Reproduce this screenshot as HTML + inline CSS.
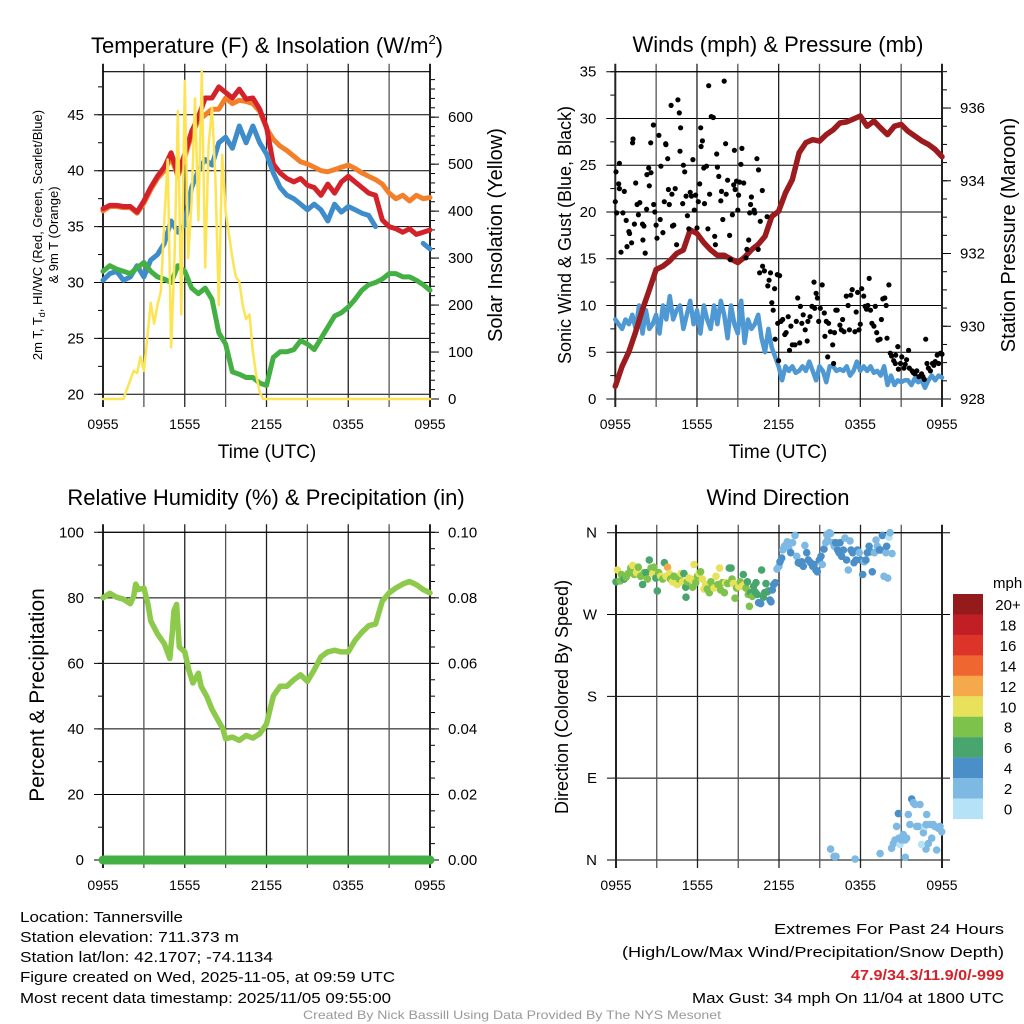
<!DOCTYPE html>
<html><head><meta charset="utf-8">
<style>
html,body{margin:0;padding:0;background:#fff;}
svg{display:block;font-family:"Liberation Sans",sans-serif;}
</style></head>
<body>
<svg id="fig" width="1024" height="1024" viewBox="0 0 1024 1024" xmlns="http://www.w3.org/2000/svg">
<text x="267" y="53" font-size="22" text-anchor="middle">Temperature (F) &amp; Insolation (W/m<tspan font-size="13" dy="-9">2</tspan><tspan dy="9">)</tspan></text>
<text x="778" y="52" font-size="22" text-anchor="middle">Winds (mph) &amp; Pressure (mb)</text>
<text x="266" y="505" font-size="22" text-anchor="middle">Relative Humidity (%) &amp; Precipitation (in)</text>
<text x="778" y="505" font-size="22" text-anchor="middle">Wind Direction</text>
<text x="267" y="458" font-size="19" text-anchor="middle">Time (UTC)</text>
<text x="778" y="458" font-size="19" text-anchor="middle">Time (UTC)</text>
<text transform="translate(42,235) rotate(-90)" font-size="13" text-anchor="middle">2m T, T<tspan font-size="9" dy="3">d</tspan><tspan dy="-3">, HI/WC (Red, Green, Scarlet/Blue)</tspan></text>
<text transform="translate(58,235) rotate(-90)" font-size="13" text-anchor="middle">&amp; 9m T (Orange)</text>
<text transform="translate(502,235) rotate(-90)" font-size="20" text-anchor="middle">Solar Insolation (Yellow)</text>
<text transform="translate(571,235) rotate(-90)" font-size="18" text-anchor="middle">Sonic Wind &amp; Gust (Blue, Black)</text>
<text transform="translate(1015,235) rotate(-90)" font-size="20" text-anchor="middle">Station Pressure (Maroon)</text>
<text transform="translate(44,695) rotate(-90)" font-size="21" text-anchor="middle">Percent &amp; Precipitation</text>
<text transform="translate(568,697) rotate(-90)" font-size="18" text-anchor="middle">Direction (Colored By Speed)</text>
<text x="993" y="588" font-size="15">mph</text>
<g font-size="15">
<text x="20" y="922" textLength="163" lengthAdjust="spacingAndGlyphs">Location: Tannersville</text>
<text x="20" y="942" textLength="219" lengthAdjust="spacingAndGlyphs">Station elevation: 711.373 m</text>
<text x="20" y="962" textLength="253" lengthAdjust="spacingAndGlyphs">Station lat/lon: 42.1707; -74.1134</text>
<text x="20" y="982" textLength="375" lengthAdjust="spacingAndGlyphs">Figure created on Wed, 2025-11-05, at 09:59 UTC</text>
<text x="20" y="1003" textLength="371" lengthAdjust="spacingAndGlyphs">Most recent data timestamp: 2025/11/05 09:55:00</text>
</g>
<g font-size="15">
<text x="1004" y="934" text-anchor="end" textLength="230" lengthAdjust="spacingAndGlyphs">Extremes For Past 24 Hours</text>
<text x="1004" y="957" text-anchor="end" textLength="382" lengthAdjust="spacingAndGlyphs">(High/Low/Max Wind/Precipitation/Snow Depth)</text>
<text x="1004" y="980" text-anchor="end" fill="#d3222a" font-weight="bold" textLength="153" lengthAdjust="spacingAndGlyphs">47.9/34.3/11.9/0/-999</text>
<text x="1004" y="1003" text-anchor="end" textLength="312" lengthAdjust="spacingAndGlyphs">Max Gust: 34 mph On 11/04 at 1800 UTC</text>
</g>
<text x="512" y="1019" font-size="12" fill="#999" text-anchor="middle" textLength="418" lengthAdjust="spacingAndGlyphs">Created By Nick Bassill Using Data Provided By The NYS Mesonet</text>
</svg>
<script>
// ---------- DATA ----------
const hours = [0,0.5,1,1.5,2,2.5,3,3.5,4,4.5,5,5.5,6,6.5,7,7.5,8,8.5,9,9.5,10,10.5,11,11.5,12,12.5,13,13.5,14,14.5,15,15.5,16,16.5,17,17.5,18,18.5,19,19.5,20,20.5,21,21.5,22,22.5,23,23.5,24];
const tempRed = [36.6,36.9,36.9,36.8,36.8,36.3,37.3,38.5,39.5,40.3,41.6,39.7,41.5,43.5,44.8,46.5,46.5,47.5,47.0,46.5,47.3,46.4,46.5,45.5,43.9,40.6,39.8,39.3,39.0,39.3,38.7,38.5,37.8,38.8,38.0,39.0,39.5,39.0,38.5,38.0,37.8,35.6,35.0,34.8,34.5,34.8,34.3,34.5,34.7];
const tempOrange = [36.4,36.8,36.8,36.7,36.7,36.2,37.1,38.3,39.3,40.0,41.2,39.5,41.2,43.2,44.5,45.0,45.5,45.5,46.5,46.0,46.3,46.2,46.0,45.3,43.8,42.8,42.2,41.8,41.3,40.8,40.6,40.3,40.0,39.9,40.1,40.3,40.5,40.2,39.8,39.5,39.2,38.8,38.0,37.5,37.8,37.3,37.8,37.5,37.6];
const tempBlue = [30.2,30.8,31.0,30.2,30.5,31.5,30.5,32.0,32.5,33.5,35.5,34.5,35.2,38.5,40.0,41.0,40.5,42.5,43.0,42.0,44.0,42.5,44.0,42.5,41.5,39.8,38.5,37.8,37.5,37.0,36.5,37.0,36.5,35.5,37.0,36.3,36.8,36.5,36.2,36.0,35.0,null,null,null,null,null,null,33.5,33.0];
const tempGreen = [31.0,31.5,31.2,31.0,30.8,31.3,31.8,31.0,30.5,30.3,30.0,31.5,31.0,29.5,29.0,29.5,28.5,25.5,24.5,22.0,21.8,21.5,21.5,21.0,20.8,23.3,23.8,23.8,24.0,24.8,24.5,24.0,25.0,26.0,27.0,27.3,27.8,28.5,29.3,29.8,30.0,30.3,30.8,30.8,30.5,30.5,30.2,29.8,29.3];
const solarHours = [0,1.5,1.75,2,2.25,2.5,2.75,3,3.25,3.5,3.75,4,4.25,4.5,4.75,5,5.25,5.5,5.75,6,6.25,6.5,6.75,7,7.25,7.5,7.75,8,8.25,8.5,8.75,9,9.25,9.5,9.75,10,10.25,10.5,10.75,11,11.25,11.5,11.75,24];
const solarValues = [0,0,20,40,60,55,90,60,130,205,160,200,230,380,510,110,300,613,180,677,300,420,640,380,698,280,540,620,470,200,520,400,350,300,260,250,200,170,180,100,50,15,0,0];
const pressure = [928.35,928.9,929.3,929.85,930.46,931.0,931.56,931.65,931.8,932.0,932.1,932.65,932.55,932.3,932.1,931.95,931.95,931.85,931.75,931.9,932.1,932.25,932.47,933.02,933.16,933.67,934.03,934.77,935.05,935.13,935.09,935.27,935.4,935.59,935.62,935.7,935.78,935.5,935.64,935.45,935.27,935.5,935.55,935.36,935.23,935.1,935.0,934.86,934.66];
const windHours = [0,0.25,0.5,0.75,1,1.25,1.5,1.75,2,2.25,2.5,2.75,3,3.25,3.5,3.75,4,4.25,4.5,4.75,5,5.25,5.5,5.75,6,6.25,6.5,6.75,7,7.25,7.5,7.75,8,8.25,8.5,8.75,9,9.25,9.5,9.75,10,10.25,10.5,10.75,11,11.25,11.5,11.75,12,12.25,12.5,12.75,13,13.25,13.5,13.75,14,14.25,14.5,14.75,15,15.25,15.5,15.75,16,16.25,16.5,16.75,17,17.25,17.5,17.75,18,18.25,18.5,18.75,19,19.25,19.5,19.75,20,20.25,20.5,20.75,21,21.25,21.5,21.75,22,22.25,22.5,22.75,23,23.25,23.5,23.75,24];
const windSpeed = [8.5,8.0,7.5,8.5,8.0,9.0,7.5,10.0,7.0,9.5,7.5,8.0,9.0,7.0,10.0,8.5,11.0,8.5,9.5,10.0,7.5,9.0,10.5,8.0,9.5,7.0,10.0,8.5,7.5,10.0,8.0,10.5,9.0,6.5,10.0,8.0,7.0,10.5,6.0,8.5,7.5,8.0,9.0,6.5,5.0,7.5,5.5,4.5,3.5,2.0,3.5,3.0,3.5,2.8,3.0,3.5,3.0,4.0,3.0,2.0,3.5,3.0,1.8,3.5,3.5,3.0,3.2,3.0,3.5,2.5,3.0,4.0,3.0,3.5,3.0,3.5,2.8,3.0,2.5,3.5,1.5,2.5,1.5,2.0,1.8,2.0,2.0,1.5,2.2,1.8,2.0,1.2,2.0,2.5,2.0,2.5,2.3];
const gustHours = [0,0.05,0.3,0.3,0.25,0.1,0.66,0.56,0.42,0.8,1.0,1.05,1.2,0.86,1.27,1.3,1.5,1.6,1.7,1.8,1.4,2.0,2.1,2.03,2.2,2.3,2.32,2.45,2.5,2.6,2.62,2.8,2.82,2.9,3.0,3.06,3.2,3.3,3.35,3.5,3.6,3.7,3.72,3.85,3.9,3.97,4.1,4.16,4.2,4.3,4.4,4.5,4.6,4.7,4.75,4.8,4.95,5.0,5.1,5.2,5.3,5.4,5.5,5.6,5.7,5.8,5.9,6.0,6.1,6.2,6.27,6.3,6.4,6.5,6.55,6.7,6.8,6.86,6.93,7.05,7.2,7.3,7.35,7.45,7.5,7.6,7.75,7.8,7.9,8.0,8.1,8.15,8.25,8.4,8.45,8.6,8.7,8.75,8.8,8.9,9.0,9.06,9.13,9.23,9.3,9.43,9.6,9.67,9.8,9.87,9.94,10.0,10.2,10.24,10.4,10.5,10.52,10.65,10.8,10.6,10.82,10.95,11.15,11.2,11.3,11.4,11.5,11.6,11.7,11.75,11.9,12.0,11.93,12.07,12.17,12.3,12.45,12.55,12.7,12.8,12.9,13.0,13.2,13.3,13.4,13.55,13.6,13.7,13.8,13.95,14.1,14.15,14.3,14.45,14.6,14.65,14.75,14.85,14.94,15.06,15.2,15.35,15.4,15.5,15.6,15.67,15.8,15.97,16.04,16.1,16.2,16.3,16.5,16.6,16.7,16.8,16.97,17.1,17.2,17.3,17.4,17.6,17.7,17.8,17.9,18.0,18.1,18.25,18.35,18.45,18.55,18.65,18.75,18.85,19.0,19.1,19.2,19.3,19.45,19.55,19.65,19.8,19.9,19.96,20.1,20.2,20.3,20.45,20.57,20.6,20.75,20.8,20.95,21.05,21.2,21.3,21.4,21.55,21.6,21.8,21.9,22.0,22.15,22.3,22.5,22.6,22.7,22.8,22.9,23.0,23.15,23.3,23.4,23.5,23.65,23.75,23.9,24.0];
const gustValues = [21.1,24.3,22.5,25.2,23.0,19.9,22.2,19.9,15.7,19.1,17.9,17.7,16.7,16.3,27.4,27.8,23.1,20.8,19.7,21.0,18.7,18.7,18.5,17.0,15.6,20.3,24.0,24.7,22.8,27.4,24.2,29.3,20.8,20.0,18.6,17.2,28.2,19.2,24.9,17.8,21.1,27.3,27.2,25.7,22.4,20.8,31.4,21.9,18.5,18.6,22.5,16.5,32.0,30.6,26.5,29.0,20.9,25.0,24.3,21.7,19.6,18.2,22.1,21.7,25.6,20.2,21.8,18.3,21.1,23.0,29.0,27.0,27.6,24.7,20.9,24.9,18.2,33.5,21.9,30.2,30.1,17.4,16.5,26.2,24.8,23.8,21.2,22.2,19.2,34.0,27.3,21.9,23.4,17.5,14.9,19.7,22.9,26.6,22.4,23.3,20.2,21.8,23.2,25.1,26.8,23.1,15.1,16.0,17.0,19.9,20.8,21.6,20.2,19.9,25.7,16.0,24.5,19.0,22.3,13.5,14.2,13.7,19.5,12.1,12.7,13.5,10.3,9.5,11.8,6.4,13.3,4.1,8.1,13.2,8.3,8.5,6.9,7.1,8.8,5.2,7.8,5.8,5.8,8.3,10.8,6.0,9.9,8.1,9.0,7.4,6.2,8.3,8.8,9.9,12.5,9.7,11.3,10.8,8.3,9.7,12.2,9.2,6.7,8.3,4.5,8.1,7.2,5.8,3.8,7.1,9.5,9.5,7.9,7.4,8.5,7.2,11.0,10.0,7.4,11.1,11.7,7.2,9.3,11.4,7.4,8.0,11.8,11.0,9.9,9.6,10.0,12.9,9.5,8.1,7.8,9.9,7.1,6.3,6.4,8.5,10.7,10.8,10.0,6.5,12.2,4.9,4.6,4.1,3.8,4.7,5.6,3.2,3.8,4.5,3.3,3.7,4.2,5.2,3.3,3.0,2.8,2.7,3.0,2.4,2.7,2.4,2.1,6.4,3.8,3.3,3.0,3.8,3.6,4.0,4.7,3.8,4.9,4.8];
const rhValues = [80,81.4,80.2,79.6,78.2,80.5,84.2,82.5,83.0,78.0,73.0,69.0,66.0,61.5,70.0,76.0,78.0,65.0,63.5,58.0,54.0,57.0,53.0,50.0,46.0,43.0,40.0,37.0,37.5,36.5,38.0,37.2,38.5,41.5,50.0,53.0,53.0,55.0,56.5,54.5,58.0,62.0,63.5,64.0,63.5,63.5,67.0,69.5,71.5,72.0,79.0,81.5,83.0,84.2,85.0,84.0,82.5,81.5];
const rhHours = [0,0.5,1,1.5,2,2.25,2.4,2.6,3,3.3,3.5,4,4.5,4.9,5.1,5.2,5.4,5.6,6,6.3,6.6,7,7.2,7.6,8,8.4,8.8,9,9.5,10,10.5,11,11.5,12,12.5,13,13.5,14,14.5,15,15.5,16,16.5,17,17.5,18,18.5,19,19.5,20,20.5,21,21.5,22,22.5,23,23.5,24];
const precipHours = [0,24];
const precipValues = [0,0];
const dirHours = [0,0.1,0.3,0.4,0.6,0.74,0.9,1.08,1.23,1.35,1.52,1.64,1.82,1.96,2.06,2.21,2.31,2.45,2.58,2.7,2.8,2.94,3.04,3.14,3.29,3.44,3.56,3.68,3.8,3.93,4.02,4.15,4.27,4.42,4.52,4.66,4.79,4.91,5.0,5.13,5.15,5.25,5.37,5.5,5.64,5.74,5.87,5.99,6.11,6.23,6.36,6.48,6.6,6.72,6.87,6.99,7.12,7.21,7.36,7.51,7.63,7.71,7.83,7.98,8.07,8.22,8.34,8.47,8.54,8.64,8.76,8.88,9.03,9.15,9.28,9.37,9.45,9.57,9.67,9.74,9.82,9.91,10.04,10.13,10.23,10.31,10.4,10.5,10.65,10.72,10.85,10.94,11.04,11.14,11.21,11.34,11.41,11.51,11.61,11.73,11.85,12.0,12.07,12.2,12.27,12.39,12.52,12.61,12.71,12.86,13.0,13.18,13.3,13.42,13.55,13.67,13.79,13.91,14.04,14.16,14.33,14.48,14.58,14.72,14.82,14.97,15.09,15.19,15.31,15.44,15.51,15.58,15.71,15.8,15.95,16.07,16.17,16.32,16.42,16.49,16.61,16.74,16.86,16.98,17.1,17.23,17.3,17.42,17.52,17.67,17.77,17.91,18.01,18.16,18.28,18.4,18.5,18.63,18.75,18.87,19.02,19.14,19.24,19.39,19.48,19.61,19.73,19.88,19.93,20.0,20.1,20.17,20.32,21.3,22.82,
15.8,16.05,16.2,17.6,19.44,20.29,20.42,20.54,20.66,20.79,20.91,20.83,21.03,21.15,21.28,21.4,21.52,21.64,21.77,21.89,22.01,22.13,22.26,22.38,22.5,22.63,22.75,22.82,22.87,22.99,23.12,23.24,23.36,23.48,23.61,23.73,23.85,23.98,24.0,24.0];
const dirDegrees = [306,319,307,314,309,311,315,321,324,314,316,322,312,303,316,316,309,330,321,315,322,310,296,316,312,309,327,312,322,315,309,306,312,304,303,309,315,306,315,300,289,306,310,309,300,325,305,312,315,317,309,298,303,298,294,306,301,299,312,303,321,297,305,294,305,304,321,321,309,304,288,299,301,306,301,314,303,299,306,292,279,294,290,301,295,305,292,283,282,319,289,294,304,295,296,286,284,297,303,305,320,323,328,332,341,345,347,350,343,338,349,357,334,327,326,328,323,346,338,330,327,323,325,319,317,330,334,325,342,349,358,352,360,359,349,345,349,341,338,349,334,341,354,330,319,351,341,338,327,330,341,338,330,314,328,330,338,345,339,317,338,352,345,341,341,357,312,338,345,310,355,360,337,
3,12,12,4,4,1,7,13,18,22,37,51,17,24,22,28,22,24,50,39,67,63,61,37,37,61,17,30,37,39,50,18,39,24,39,37,11,35,37,31];
const dirSpeeds = [7,10,8,8,7,8,8,8,10,8,10,8,8,6,8,7,8,7,8,10,8,6,6,9,10,8,7,10,13,10,9,10,8,10,10,9,10,10,7,6,6,8,10,10,8,10,8,9,10,8,10,10,10,8,8,9,8,10,10,8,10,9,9,8,10,9,7,7,8,10,8,8,10,9,10,7,10,8,6,8,8,7,8,7,6,6,7,4,4,6,6,6,6,7,6,4,4,4,4,4,2,3,4,4,2,2,2,2,2,4,2,2,3,4,4,4,4,2,4,4,4,4,4,4,4,4,4,3,4,2,2,2,2,2,2,2,4,4,4,4,4,4,2,4,3,2,4,4,4,4,4,2,4,4,2,4,4,4,4,4,2,2,2,4,4,4,2,2,4,2,1,2,2,2,
2,2,2,2,2,2,2,2,2,2,4,1,2,2,2,2,2,2,2,4,2,2,2,2,2,1,2,1,2,2,2,2,2,2,2,2,2,2,2,2];
const speedLegendLabels = ['20+','18','16','14','12','10','8','6','4','2','0'];
const speedColors = ['#b5e2f6','#7db9e3','#4a8fc7','#49a56e','#7dc24b','#e7e15b','#f6a94a','#ef6631','#dc3429','#c11e26','#941a1c'];

// ---------- RENDER ----------
const svg = document.getElementById('fig');
const NS = 'http://www.w3.org/2000/svg';
function mk(tag, attrs, parent){const e=document.createElementNS(NS,tag);for(const k in attrs)e.setAttribute(k,attrs[k]);(parent||svg).appendChild(e);return e;}

function makeAxis(cfg){
  const xs = h => cfg.x0 + h*(cfg.x1-cfg.x0)/24;
  const g = mk('g',{});
  
  
  cfg.leftTicks.forEach(v=>{
    const y=cfg.yl(v);
    const gl=mk('line',{x1:cfg.x0-9,x2:cfg.x1+(cfg.gridExt||0),y1:y,y2:y,stroke:'#000','stroke-width':1},g);
    
    
    const t=mk('text',{x:cfg.x0-19,y:y+5,'font-size':15,'text-anchor':'end'},g);
    t.textContent = cfg.leftFmt ? cfg.leftFmt(v) : v;
    
    
  });
  (cfg.leftMinor||[]).forEach(v=>{const y=cfg.yl(v);const m=mk('line',{x1:cfg.x0-5,x2:cfg.x0,y1:y,y2:y,stroke:'#000','stroke-width':1},g);
    
    });
  if(cfg.rightTicks){
    cfg.rightTicks.forEach(v=>{const y=cfg.yr(v);
      const tk=mk('line',{x1:cfg.x1,x2:cfg.x1+9,y1:y,y2:y,stroke:'#000','stroke-width':1},g);
      
      
      const t=mk('text',{x:cfg.x1+18,y:y+5,'font-size':15},g);
      t.textContent = cfg.rightFmt(v);
      
      });
    cfg.rightMinor.forEach(v=>{const y=cfg.yr(v);const m=mk('line',{x1:cfg.x1,x2:cfg.x1+5,y1:y,y2:y,stroke:'#000','stroke-width':1},g);
      
      });
  }
  [0,3,6,9,12,15,18,21,24].forEach(h=>{
    const x=xs(h);
    const vl=mk('line',{x1:x,x2:x,y1:cfg.y0-8,y2:cfg.y1+8,stroke:(h%6===0?'#222':'#555'),'stroke-width':(h===0||h===24)?2:1.3},g);
    
    
  });
  ['0955','1555','2155','0355','0955'].forEach((lab,i)=>{
    const t=mk('text',{x:xs(i*6),y:cfg.y1+30,'font-size':14,'text-anchor':'middle'},g);
    t.textContent=lab;
    
    
  });
  const top=mk('line',{x1:cfg.x0,x2:cfg.x1,y1:cfg.y0,y2:cfg.y0,stroke:'#000','stroke-width':1.2},g);
  
  
  return xs;
}

function linePath(xs,ys,xf,yf,color,width,name){
  let d='',pen=false;
  const n=Math.min(xs.length,ys.length);
  for(let i=0;i<n;i++){
    if(ys[i]===null||ys[i]===undefined){pen=false;continue;}
    d+=(pen?'L':'M')+xf(xs[i]).toFixed(1)+' '+yf(ys[i]).toFixed(1)+' ';pen=true;
  }
  const p=mk('path',{d:d,fill:'none',stroke:color,'stroke-width':width,'stroke-linejoin':'round','stroke-linecap':'round'});
  
  
  return p;
}
function range(a,b,s){const r=[];for(let v=a;v<=b+1e-9;v+=s)r.push(+v.toFixed(4));return r;}

// Panel 1: temperature
const yT = v => 394.3-(v-20)*11.18;
const yS = v => 399-v*0.4697;
const x1f = makeAxis({name:'temperature',x0:103,x1:430,y0:71.7,y1:399,yl:yT,yr:yS,
  leftTicks:[20,25,30,35,40,45],leftMinor:range(20,47.5,2.5),
  rightTicks:[0,100,200,300,400,500,600],rightMinor:range(0,680,20),rightFmt:v=>v});
linePath(hours,tempOrange,x1f,yT,'#f47f2a',5,'temperature-9m-orange-line');
linePath(hours,tempRed,x1f,yT,'#d3222a',5,'temperature-2m-red-line');
linePath(hours,tempBlue,x1f,yT,'#3f8ccb',5,'wind-chill-blue-line');
linePath(hours,tempGreen,x1f,yT,'#44b044',5,'dewpoint-green-line');
linePath(solarHours,solarValues,x1f,yS,'#fde455',2.5,'solar-insolation-yellow-line');

// Panel 2: winds
const yW = v => 399-v*9.351;
const yP = p => 399-(p-928)*36.37;
const x2f = makeAxis({name:'wind',x0:615.3,x1:942,y0:71.7,y1:399,yl:yW,yr:yP,
  leftTicks:[0,5,10,15,20,25,30,35],leftMinor:range(0,35,2.5),
  rightTicks:[928,930,932,934,936],rightMinor:range(928,937,0.5),rightFmt:v=>v});
linePath(windHours,windSpeed,x2f,yW,'#4e98d3',4.5,'sustained-wind-blue-line');
linePath(hours,pressure,x2f,yP,'#9b1b1e',5.5,'station-pressure-maroon-line');
const nGust=Math.min(gustHours.length,gustValues.length);
for(let i=0;i<nGust;i++){
  const c=mk('circle',{cx:x2f(gustHours[i]).toFixed(1),cy:yW(gustValues[i]).toFixed(1),r:2.6,fill:'#000'});
  
  
}

// Panel 3: RH
const yR = v => 860-v*3.277;
const yPr = v => 860-v*3277;
const x3f = makeAxis({name:'humidity',x0:103,x1:430,y0:532.3,y1:860,yl:yR,yr:yPr,
  leftTicks:[0,20,40,60,80,100],leftMinor:range(0,100,10),
  rightTicks:[0,0.02,0.04,0.06,0.08,0.10],rightMinor:range(0,0.1,0.005),rightFmt:v=>v.toFixed(2)});
linePath(rhHours,rhValues,x3f,yR,'#8dc94b',5.5,'relative-humidity-line');
linePath(precipHours,precipValues,x3f,yPr,'#44b044',9,'precipitation-line');

// Panel 4: wind direction
const yD = d => 860-d*0.9092;
const x4f = makeAxis({name:'direction',x0:616,x1:942,y0:532.7,y1:860,yl:yD,gridExt:8,
  leftTicks:[0,90,180,270,360],leftMinor:[],leftFmt:v=>({0:'N',90:'E',180:'S',270:'W',360:'N'})[v]});
const nDir=Math.min(dirHours.length,dirDegrees.length,dirSpeeds.length);
for(let i=0;i<nDir;i++){
  const bin=Math.min(10,Math.floor(dirSpeeds[i]/2));
  const c=mk('circle',{cx:x4f(dirHours[i]).toFixed(1),cy:yD(dirDegrees[i]).toFixed(1),r:3.8,fill:speedColors[bin]});
  
  
}
speedLegendLabels.forEach((lab,i)=>{
  const y=594+i*20.45;
  const r=mk('rect',{x:953,y:y,width:30,height:20.6,fill:speedColors[10-i]});
  
  
  const t=mk('text',{x:1008,y:y+16,'font-size':15,'text-anchor':'middle'});
  t.textContent=lab;
  
  
});
</script>
</body></html>
